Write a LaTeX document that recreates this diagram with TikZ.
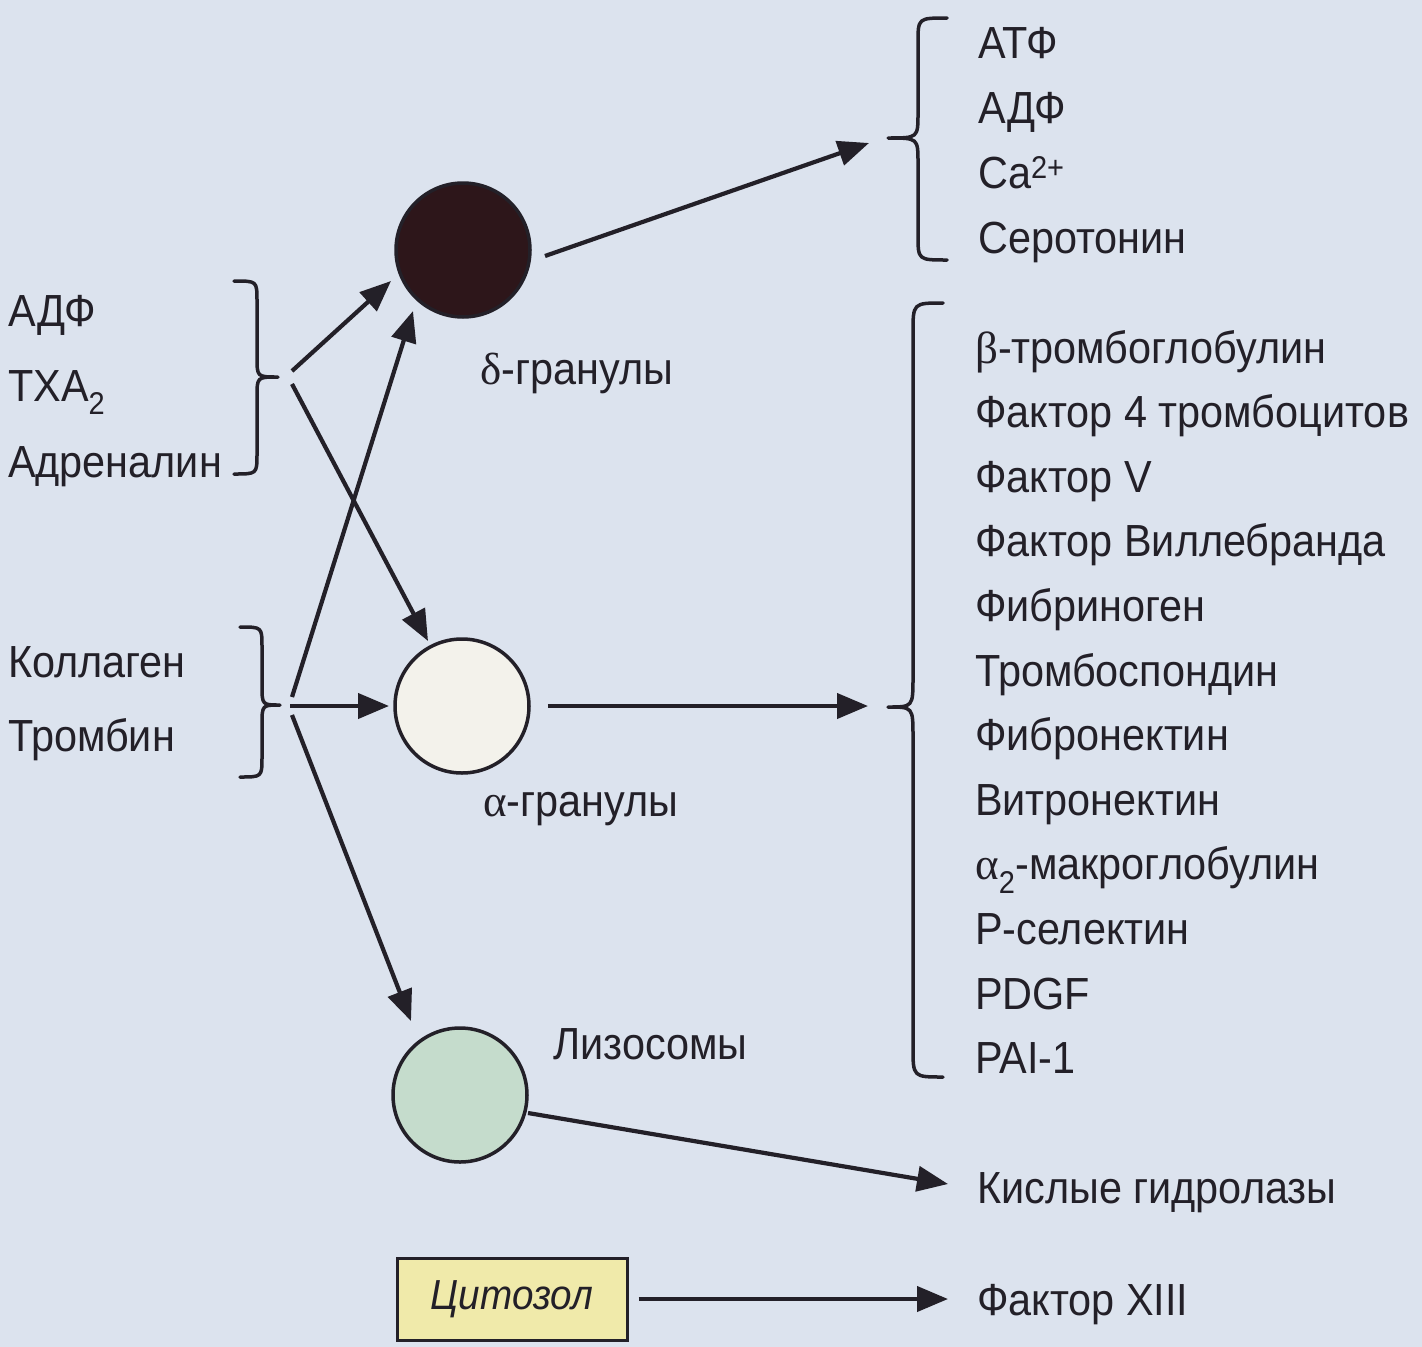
\documentclass[tikz,border=0pt]{standalone}
\usepackage{fontspec}
\setmainfont{Liberation Sans}[FakeStretch=0.92]
\newfontfamily\grk{Liberation Serif}
\usetikzlibrary{arrows.meta}

\definecolor{paper}{RGB}{220,227,238}
\definecolor{ink}{RGB}{35,32,40}
\definecolor{dgran}{RGB}{45,22,26}
\definecolor{agran}{RGB}{243,242,235}
\definecolor{lyso}{RGB}{197,220,204}
\definecolor{cyto}{RGB}{240,234,170}

% curly brace: ends at x=#1, bar at x=#2, tip at x=#3; top #4, tip level #5, bottom #6, corner radius #7
\newcommand\curlybrace[7]{%
  \draw[brc] (#1,#4) .. controls (#2,#4) .. ({#2},{#4+#7}) -- ({#2},{#5-#7})
    .. controls (#2,#5) .. (#3,#5) .. controls (#2,#5) .. ({#2},{#5+#7})
    -- ({#2},{#6-#7}) .. controls (#2,#6) .. (#1,#6);}

\begin{document}
\begin{tikzpicture}[x=1pt,y=-1pt,
  lbl/.style={anchor=base west,inner sep=0pt,text=ink,font=\fontsize{45}{50}\selectfont},
  gran/.style={circle,draw=ink,line width=3.5pt,minimum size=134pt,inner sep=0pt},
  arr/.style={draw=ink,line width=4.2pt,-{Triangle[length=31pt,width=25pt]}},
  brc/.style={draw=ink,line width=3.5pt,line cap=round,line join=round}]

\fill[paper] (0,0) rectangle (1422,1347);
\useasboundingbox (0,0) rectangle (1422,1347);

% granules and cytosol
\node[gran,fill=dgran] (dg) at (463,250) {};
\node[gran,fill=agran] (ag) at (462,706) {};
\node[gran,fill=lyso]  (ly) at (460,1095) {};
\node[draw=ink,line width=3pt,fill=cyto,minimum width=230pt,minimum height=82pt,
      inner sep=0pt,text=ink,font=\fontsize{42}{46}\selectfont\itshape] (cy) at (512,1299) {Цитозол};

% granule labels
\node[lbl] (dlab) at (480,384) {{\grk δ}-гранулы};
\node[lbl] (alab) at (483,816) {{\grk α}-гранулы};
\node[lbl] (llab) at (553,1059) {Лизосомы};

% agonists
\node[lbl] (adp)  at (8,326) {АДФ};
\node[lbl] (txa)  at (8,401) {TXA\textsubscript{2}};
\node[lbl] (adr)  at (8,477) {Адреналин};
\node[lbl] (col)  at (8,677) {Коллаген};
\node[lbl] (thr)  at (8,751) {Тромбин};

% delta-granule contents
\node[lbl] (atf)  at (978,58)  {АТФ};
\node[lbl] (adf)  at (978,123) {АДФ};
\node[lbl] (ca)   at (978,188) {Ca\textsuperscript{2+}};
\node[lbl] (ser)  at (978,253) {Серотонин};

% alpha-granule contents
\node[lbl] (a1)  at (975,363.0)  {{\grk β}-тромбоглобулин};
\node[lbl] (a2)  at (975,427.6)  {Фактор 4 тромбоцитов};
\node[lbl] (a3)  at (975,492.2)  {Фактор V};
\node[lbl] (a4)  at (975,556.8)  {Фактор Виллебранда};
\node[lbl] (a5)  at (975,621.4)  {Фибриноген};
\node[lbl] (a6)  at (975,686.0)  {Тромбоспондин};
\node[lbl] (a7)  at (975,750.6)  {Фибронектин};
\node[lbl] (a8)  at (975,815.2)  {Витронектин};
\node[lbl] (a9)  at (975,879.8)  {{\grk α}\textsubscript{2}-макроглобулин};
\node[lbl] (a10) at (975,944.4)  {P-селектин};
\node[lbl] (a11) at (975,1009.0) {PDGF};
\node[lbl] (a12) at (975,1073.6) {PAI-1};

% other products
\node[lbl] (hyd) at (977,1203) {Кислые гидролазы};
\node[lbl] (f13) at (977,1315) {Фактор XIII};

% braces
\curlybrace{234}{257}{278}{281}{377}{474}{20}
\curlybrace{240}{262}{280}{627}{705}{777}{20}
\curlybrace{947}{918}{888}{18}{138}{260}{25}
\curlybrace{943}{913}{888}{303}{707}{1077}{30}

% connector end points
\coordinate (b1u) at (292,371);
\coordinate (b1d) at (292,384);
\coordinate (b2u) at (292,697);
\coordinate (b2r) at (290,706);
\coordinate (b2d) at (292,715);
\coordinate (dIn1) at (391,281);
\coordinate (dIn2) at (413,311);
\coordinate (aIn1) at (428,641);
\coordinate (aIn2) at (389,706);
\coordinate (lIn)  at (411,1021);
\coordinate (dOut) at (545,256);
\coordinate (dTo)  at (869,143);
\coordinate (aTo)  at (868,706);
\coordinate (lOut) at (528,1113);
\coordinate (lTo)  at (948,1184);
\coordinate (fTo)  at (948,1299);

% activation arrows
\draw[arr] (b1u) -- (dIn1);
\draw[arr] (b1d) -- (aIn1);
\draw[arr] (b2u) -- (dIn2);
\draw[arr] (b2r) -- (aIn2);
\draw[arr] (b2d) -- (lIn);

% release arrows
\draw[arr] (dOut) -- (dTo);
\draw[arr,shorten <=17pt] (ag.east) -- (aTo);
\draw[arr] (lOut) -- (lTo);
\draw[arr,shorten <=10pt] (cy.east) -- (fTo);
\end{tikzpicture}
\end{document}
